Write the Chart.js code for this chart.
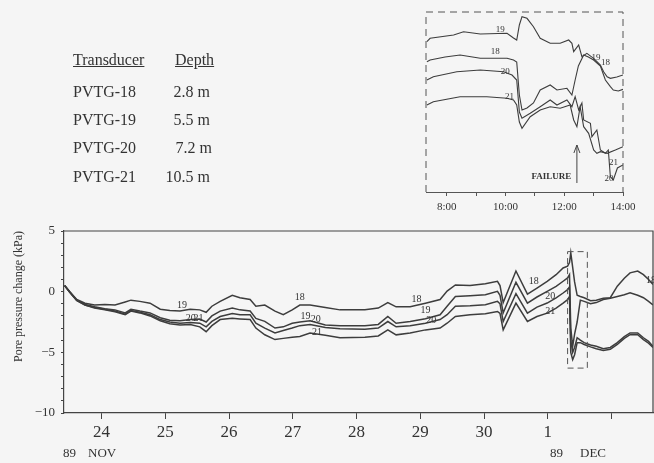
<!DOCTYPE html>
<html>
<head>
<meta charset="utf-8">
<script src="https://cdn.jsdelivr.net/npm/chart.js@4.4.1/dist/chart.umd.min.js"></script>
<style>
  html, body { margin: 0; padding: 0; background: #f5f5f5; }
  body { width: 654px; height: 463px; position: relative; overflow: hidden;
         font-family: 'Liberation Serif', 'DejaVu Serif', serif; color: #333; }
  #main { position: absolute; left: 0; top: 0; }
  #inset { position: absolute; left: 390px; top: 0; }
  .txt { position: absolute; white-space: nowrap; line-height: 18px; }
  .legend { font-size: 16px; }
  .u { text-decoration: underline; }
  .r { text-align: right; width: 60px; }
  .month { font-size: 13px; }
</style>
</head>
<body>
<canvas id="main" width="654" height="463"></canvas>
<canvas id="inset" width="264" height="225"></canvas>

<!-- legend of transducers -->
<div class="txt legend u" style="left:73px;top:51px">Transducer</div>
<div class="txt legend u" style="left:175px;top:51px">Depth</div>
<div class="txt legend" style="left:73px;top:83px">PVTG-18</div>
<div class="txt legend r" style="left:150px;top:83px">2.8 m</div>
<div class="txt legend" style="left:73px;top:111px">PVTG-19</div>
<div class="txt legend r" style="left:150px;top:111px">5.5 m</div>
<div class="txt legend" style="left:73px;top:139px">PVTG-20</div>
<div class="txt legend r" style="left:152px;top:139px">7.2 m</div>
<div class="txt legend" style="left:73px;top:168px">PVTG-21</div>
<div class="txt legend r" style="left:150px;top:168px">10.5 m</div>

<div class="txt month" style="left:63px;top:444px">89</div>
<div class="txt month" style="left:88px;top:444px">NOV</div>
<div class="txt month" style="left:550px;top:444px">89</div>
<div class="txt month" style="left:580px;top:444px">DEC</div>

<script>
// ===== main chart data (day of month, Nov 24 = 24, Dec 1 = 31) =====
const days = [23.42, 23.50, 23.61, 23.74, 23.89, 24.05, 24.21, 24.37, 24.46, 24.60,
  24.76, 24.92, 25.07, 25.23, 25.39, 25.54, 25.64, 25.73, 25.86, 26.05,
  26.17, 26.33, 26.42, 26.56, 26.72, 26.85, 26.99, 27.11, 27.27, 27.51,
  27.74, 28.13, 28.34, 28.49, 28.62, 28.84, 29.08, 29.31, 29.42, 29.55,
  29.78, 30.02, 30.21, 30.25, 30.30, 30.50, 30.68, 30.83, 30.99, 31.13,
  31.24, 31.31, 31.34, 31.36, 31.39, 31.42, 31.46, 31.51, 31.57, 31.67,
  31.76, 31.87, 31.98, 32.09, 32.20, 32.29, 32.41, 32.50, 32.58, 32.65];

const pvtg18 = [0.5, 0.0, -0.65, -0.95, -1.1, -1.05, -1.1, -0.85, -0.7, -0.8,
  -0.95, -1.45, -1.55, -1.6, -1.45, -1.5, -1.7, -1.2, -0.8, -0.3,
  -0.5, -0.65, -1.2, -1.1, -1.6, -1.9, -1.5, -1.1, -1.1, -1.3,
  -1.5, -1.5, -1.35, -0.9, -1.25, -1.25, -0.95, -0.65, 0.05, 0.55,
  0.5, 0.65, 0.85, 0.5, -0.9, 1.7, -0.2, 0.3, 0.85, 1.4,
  1.95, 2.1, 2.4, 3.2, 2.0, 0.8, -0.3, -0.4, -0.5, -0.75,
  -0.7, -0.55, -0.5, 0.45, 1.1, 1.55, 1.7, 1.4, 1.0, 0.6];

const pvtg19 = [0.5, 0.0, -0.7, -1.05, -1.25, -1.4, -1.5, -1.75, -1.45, -1.6,
  -1.75, -2.15, -2.35, -2.4, -2.3, -2.25, -2.5, -2.0, -1.6, -1.35,
  -1.5, -1.6, -2.2, -2.45, -3.0, -2.9, -2.6, -2.5, -2.4, -2.75,
  -2.8, -2.8, -2.7, -2.05, -2.6, -2.46, -2.24, -1.9, -1.2, -0.4,
  -0.33, -0.25, 0.03, -0.3, -1.75, 0.77, -0.94, -0.44, 0.03, 0.44,
  0.86, 1.13, 1.4, -3.0, -4.5, -3.5, -2.5, -0.7, -0.8, -1.0,
  -0.9, -0.65, -0.55, -0.4, -0.25, -0.1, -0.3, -0.5, -0.8, -1.1];

const pvtg20 = [0.5, -0.05, -0.7, -1.1, -1.3, -1.45, -1.6, -1.85, -1.55, -1.7,
  -1.9, -2.3, -2.5, -2.6, -2.55, -2.6, -2.9, -2.45, -2.05, -1.8,
  -1.9, -1.9, -2.6, -3.0, -3.4, -3.2, -3.0, -2.8, -2.7, -2.95,
  -3.05, -3.1, -3.0, -2.46, -2.9, -2.8, -2.6, -2.3, -1.9, -1.2,
  -1.16, -1.08, -0.8, -1.0, -2.46, -0.17, -1.77, -1.27, -0.94, -0.52,
  -0.11, 0.17, 0.4, -4.0, -5.0, -4.6, -3.8, -4.0, -4.2, -4.4,
  -4.5, -4.7, -4.6, -4.2, -3.7, -3.4, -3.4, -3.8, -4.1, -4.5];

const pvtg21 = [0.5, -0.05, -0.75, -1.1, -1.35, -1.5, -1.65, -1.9, -1.6, -1.75,
  -2.0, -2.4, -2.65, -2.75, -2.7, -2.9, -3.3, -2.8, -2.3, -2.2,
  -2.25, -2.3, -3.0, -3.55, -3.95, -3.85, -3.75, -3.7, -3.4, -3.6,
  -3.8, -3.75, -3.65, -3.15, -3.56, -3.4, -3.15, -3.0, -2.6, -2.05,
  -1.9, -1.82, -1.63, -1.8, -3.15, -0.94, -2.46, -2.05, -1.77, -1.35,
  -0.94, -0.66, -0.4, -5.0, -5.6, -5.2, -4.2, -4.2, -4.35, -4.55,
  -4.7, -4.85, -4.75, -4.35, -3.85, -3.55, -3.55, -3.95, -4.25, -4.6];

const dayTicks = [24, 25, 26, 27, 28, 29, 30, 31, 32];
const dayLabels = ['24', '25', '26', '27', '28', '29', '30', '1', ''];
const kpaTicks = [-10, -9, -8, -7, -6, -5, -4, -3, -2, -1, 0, 1, 2, 3, 4, 5];

// line labels on the main chart
const mainLabelText = ['19', '20', '21', '18', '19', '20', '21', '18', '19', '20', '18', '20', '21', '18'];
const mainLabelDay  = [25.26, 25.40, 25.52, 27.11, 27.20, 27.36, 27.38, 28.94, 29.08, 29.17, 30.78, 31.04, 31.04, 32.62];
const mainLabelKpa  = [-1.15, -2.2, -2.2, -0.45, -2.0, -2.3, -3.35, -0.6, -1.55, -2.35, 0.85, -0.4, -1.6, 0.9];

// window shown in the inset (Dec 1, about 7:30 to 14:00)
const boxDays = [31.31, 31.62];
const boxKpa = [3.3, -6.3];

// ===== inset data (hour of Dec 1, relative pressure) =====
const t18 = [7.32, 7.43, 7.94, 8.45, 9.14, 10.05, 10.27, 10.38, 10.47, 10.56, 10.73, 10.95, 11.18, 11.52,
  11.75, 12.09, 12.26, 12.37, 12.48, 12.66, 12.82, 13.0, 13.23, 13.40, 13.57, 13.67, 13.84, 14.0];
const v18 = [-0.97, -0.8, -0.5, -0.3, -0.63, -0.63, -0.8, -1.0, -4.3, -5.8, -5.6, -5.1, -3.8, -3.3,
  -3.8, -3.63, -4.3, -2.8, -1.4, -0.3, -0.5, -0.8, -1.4, -2.8, -3.47, -3.8, -3.9, -3.73];
const t19 = [7.32, 7.43, 8.23, 8.57, 9.14, 10.05, 10.27, 10.38, 10.47, 10.56, 10.73, 10.95, 11.18, 11.52,
  11.86, 12.15, 12.26, 12.32, 12.49, 12.60, 12.77, 13.00, 13.23, 13.34, 13.46, 13.57, 13.79, 14.0];
const v19 = [1.03, 1.37, 1.7, 2.03, 1.8, 1.87, 1.4, 1.2, 2.7, 3.53, 3.37, 2.53, 1.37, 0.87,
  0.87, 1.2, 0.87, 0.03, 0.7, -0.47, -0.13, -0.63, -1.3, -1.97, -2.47, -2.63, -2.5, -2.3];
const t20 = [7.32, 7.54, 8.34, 9.14, 9.93, 10.22, 10.38, 10.47, 10.56, 10.84, 11.18, 11.52, 11.75, 12.09, 12.26,
  12.37, 12.49, 12.60, 12.66, 12.89, 12.94, 13.11, 13.23, 13.40, 13.50, 13.57, 13.67, 13.81, 14.0];
const v20 = [-2.8, -2.47, -1.97, -1.8, -1.97, -2.3, -2.8, -6.0, -6.63, -6.13, -5.47, -4.8, -5.3, -4.8, -5.47,
  -4.47, -5.8, -5.1, -6.8, -7.13, -8.47, -7.8, -9.8, -10.13, -9.8, -12.47, -12.8, -11.6, -11.3];
const t21 = [7.32, 7.54, 8.45, 9.36, 10.05, 10.27, 10.38, 10.47, 10.56, 10.84, 11.18, 11.52, 11.86,
  12.20, 12.32, 12.43, 12.54, 12.66, 12.83, 13.0, 13.11, 13.23, 13.46, 13.74, 14.0];
const v21 = [-5.3, -4.97, -4.47, -4.47, -4.63, -4.8, -5.3, -7.0, -7.63, -6.47, -5.8, -5.47, -5.63,
  -5.3, -6.8, -7.47, -5.47, -7.47, -8.13, -9.8, -10.13, -9.97, -10.13, -9.8, -9.47];

const hourTicks = [8, 9, 10, 11, 12, 13, 14];
const hourLabels = ['8:00', '', '10:00', '', '12:00', '', '14:00'];

const insetLabelText = ['19', '18', '20', '21', '19', '18', '21', '20'];
const insetLabelHour = [9.82, 9.65, 9.99, 10.13, 13.08, 13.40, 13.68, 13.52];
const insetLabelVal  = [2.2, 0.0, -1.95, -4.5, -0.55, -1.1, -11.1, -12.7];

const failureHour = 12.43;
const failureArrow = [-13.1, -9.3];   // arrow foot and tip
const failureText = { hour: 11.56, val: -12.5 };

// ======================================================
const serif = "'Liberation Serif', 'DejaVu Serif', serif";
Chart.defaults.font.family = serif;
Chart.defaults.color = '#333';

const ink = '#3d3d3d';
const toXY = (xs, ys) => xs.map((x, i) => ({ x: x, y: ys[i] }));

const lineSet = (data, w) => ({
  data: data, borderColor: ink, borderWidth: w, pointRadius: 0, tension: 0, fill: false
});

// frame, dashed window and line labels of the main chart
const mainDecor = {
  id: 'mainDecor',
  afterDatasetsDraw(chart) {
    const { ctx, chartArea: a, scales: { x, y } } = chart;
    ctx.save();
    ctx.strokeStyle = '#444';
    ctx.lineWidth = 1.2;
    ctx.beginPath();
    ctx.moveTo(a.left, a.top);
    ctx.lineTo(a.right, a.top);
    ctx.lineTo(a.right, a.bottom);
    ctx.stroke();

    // window of the inset
    const bx1 = x.getPixelForValue(boxDays[0]), bx2 = x.getPixelForValue(boxDays[1]);
    const by1 = y.getPixelForValue(boxKpa[0]), by2 = y.getPixelForValue(boxKpa[1]);
    ctx.setLineDash([6, 4]);
    ctx.lineWidth = 1;
    ctx.strokeStyle = '#555';
    ctx.strokeRect(bx1, by1, bx2 - bx1, by2 - by1);
    ctx.setLineDash([]);

    ctx.font = '10px ' + serif;
    ctx.fillStyle = '#333';
    ctx.textAlign = 'center';
    ctx.textBaseline = 'middle';
    mainLabelText.forEach((t, i) => {
      ctx.fillText(t, x.getPixelForValue(mainLabelDay[i]), y.getPixelForValue(mainLabelKpa[i]));
    });
    ctx.restore();
  }
};

new Chart(document.getElementById('main'), {
  type: 'line',
  data: {
    datasets: [
      lineSet(toXY(days, pvtg18), 1.5),
      lineSet(toXY(days, pvtg19), 1.5),
      lineSet(toXY(days, pvtg20), 1.5),
      lineSet(toXY(days, pvtg21), 1.5)
    ]
  },
  options: {
    responsive: false,
    animation: false,
    devicePixelRatio: 1,
    layout: { padding: { top: 231, right: 1, left: 0, bottom: 0 } },
    plugins: { legend: { display: false }, tooltip: { enabled: false } },
    scales: {
      x: {
        type: 'linear', min: 23.41, max: 32.65,
        afterFit: s => { s.height = 50; },
        afterBuildTicks: s => { s.ticks = dayTicks.map(v => ({ value: v })); },
        ticks: { autoSkip: false, maxRotation: 0, padding: 3, color: '#333',
                 font: { size: 17 }, callback: (v, i) => dayLabels[i] },
        grid: { drawOnChartArea: false, tickLength: 6, color: '#444' },
        border: { color: '#444', width: 1.2 }
      },
      y: {
        min: -10, max: 5,
        afterFit: s => { s.width = 64; },
        afterBuildTicks: s => { s.ticks = kpaTicks.map(v => ({ value: v })); },
        ticks: { autoSkip: false, padding: 6, color: '#333', font: { size: 13 },
                 callback: v => v % 5 === 0 ? String(v).replace('-', '\u2212') : '' },
        grid: { drawOnChartArea: false, tickLength: 3, color: '#444' },
        border: { color: '#444', width: 1.2 },
        title: { display: true, text: 'Pore pressure change (kPa)', align: 'end',
                 font: { size: 12 }, color: '#333', padding: { top: 12, bottom: 0 } }
      }
    }
  },
  plugins: [mainDecor]
});

// dashed frame, labels and failure arrow of the inset
const insetDecor = {
  id: 'insetDecor',
  afterDatasetsDraw(chart) {
    const { ctx, chartArea: a, scales: { x, y } } = chart;
    ctx.save();
    ctx.strokeStyle = '#555';
    ctx.lineWidth = 1;
    ctx.setLineDash([7, 5]);
    ctx.beginPath();
    ctx.moveTo(a.left, a.bottom);
    ctx.lineTo(a.left, a.top);
    ctx.lineTo(a.right, a.top);
    ctx.lineTo(a.right, a.bottom);
    ctx.stroke();
    ctx.setLineDash([]);

    ctx.fillStyle = '#333';
    ctx.font = '9px ' + serif;
    ctx.textAlign = 'center';
    ctx.textBaseline = 'middle';
    insetLabelText.forEach((t, i) => {
      ctx.fillText(t, x.getPixelForValue(insetLabelHour[i]), y.getPixelForValue(insetLabelVal[i]));
    });

    ctx.font = 'bold 9px ' + serif;
    ctx.fillText('FAILURE', x.getPixelForValue(failureText.hour), y.getPixelForValue(failureText.val));

    const ax = x.getPixelForValue(failureHour);
    const a0 = y.getPixelForValue(failureArrow[0]), a1 = y.getPixelForValue(failureArrow[1]);
    ctx.strokeStyle = '#444';
    ctx.beginPath();
    ctx.moveTo(ax, a0);
    ctx.lineTo(ax, a1);
    ctx.moveTo(ax - 3, a1 + 8);
    ctx.lineTo(ax, a1);
    ctx.lineTo(ax + 3, a1 + 8);
    ctx.stroke();
    ctx.restore();
  }
};

new Chart(document.getElementById('inset'), {
  type: 'line',
  data: {
    datasets: [
      lineSet(toXY(t18, v18), 1.1),
      lineSet(toXY(t19, v19), 1.1),
      lineSet(toXY(t20, v20), 1.1),
      lineSet(toXY(t21, v21), 1.1)
    ]
  },
  options: {
    responsive: false,
    animation: false,
    devicePixelRatio: 1,
    layout: { padding: { top: 12, right: 31, left: 36, bottom: 0 } },
    plugins: { legend: { display: false }, tooltip: { enabled: false } },
    scales: {
      x: {
        type: 'linear', min: 7.29, max: 14,
        afterFit: s => { s.height = 33; },
        afterBuildTicks: s => { s.ticks = hourTicks.map(v => ({ value: v })); },
        ticks: { autoSkip: false, maxRotation: 0, padding: 5, color: '#333',
                 font: { size: 11 }, callback: (v, i) => hourLabels[i] },
        grid: { drawOnChartArea: false, tickLength: 4, color: '#555' },
        border: { color: '#555', width: 1 }
      },
      y: { display: false, min: -14, max: 4 }
    }
  },
  plugins: [insetDecor]
});
</script>
</body>
</html>
